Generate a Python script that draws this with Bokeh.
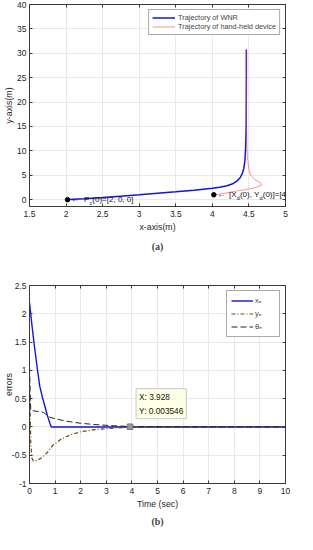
from bokeh.plotting import figure
from bokeh.layouts import column
from bokeh.models import Range1d, FixedTicker, LinearAxis, Legend, LegendItem, Label, Title
from bokeh.embed import file_html
from bokeh.resources import INLINE

# ---------------- data: panel (a) ----------------
wnr_x = [2.02, 2.1, 2.25, 2.5, 2.75, 3.0, 3.25, 3.5, 3.75, 4.0, 4.1, 4.2, 4.27, 4.33, 4.38, 4.41,
         4.43, 4.445, 4.453, 4.458, 4.462, 4.464, 4.465, 4.465]
wnr_y = [0.0, 0.07, 0.2, 0.45, 0.72, 1.0, 1.3, 1.6, 1.95, 2.35, 2.55, 2.85, 3.2, 3.75, 4.5, 5.4,
         6.4, 8.0, 10.0, 12.0, 15.0, 20.0, 25.0, 30.8]
dev_x = [4.02, 4.1, 4.2, 4.3, 4.45, 4.57, 4.64, 4.675, 4.665, 4.64, 4.58, 4.52, 4.495, 4.48,
         4.472, 4.468, 4.466, 4.465, 4.465]
dev_y = [1.0, 1.15, 1.4, 1.7, 2.05, 2.4, 2.75, 3.0, 3.3, 3.6, 4.1, 5.1, 6.7, 8.7,
         11.4, 15.0, 20.0, 25.0, 30.8]
a_xticks = [1.5, 2, 2.5, 3, 3.5, 4, 4.5, 5]
a_xlabels = ["1.5", "2", "2.5", "3", "3.5", "4", "4.5", "5"]
a_yticks = [0, 5, 10, 15, 20, 25, 30, 35, 40]
a_ylabels = ["0", "5", "10", "15", "20", "25", "30", "35", "40"]
a_names = ["Trajectory of WNR", "Trajectory of hand-held device"]

# ---------------- data: panel (b) ----------------
t_xe = [0.0, 0.1, 0.2, 0.3, 0.4, 0.5, 0.6, 0.7, 0.8, 0.85, 2.0, 4.0, 6.0, 8.0, 10.0]
xe = [2.2, 1.78, 1.40, 1.05, 0.72, 0.53, 0.37, 0.2, 0.06, 0.0, 0.0, 0.0, 0.0, 0.0, 0.0]
t_ye = [0.0, 0.02, 0.05, 0.1, 0.15, 0.3, 0.5, 0.7, 0.9, 1.25, 1.6, 2.0, 2.6, 3.3, 4.0, 10.0]
ye = [1.05, 0.4, -0.3, -0.56, -0.6, -0.59, -0.54, -0.45, -0.33, -0.21, -0.14, -0.085, -0.045,
      -0.02, -0.005, 0.0]
t_th = [0.0, 0.02, 0.05, 0.3, 0.55, 0.65, 0.8, 1.0, 1.3, 1.6, 2.0, 2.6, 3.3, 4.0, 10.0]
th = [1.05, 0.6, 0.29, 0.275, 0.255, 0.22, 0.17, 0.145, 0.115, 0.09, 0.065, 0.04, 0.02, 0.006, 0.0]
b_xticks = [0, 1, 2, 3, 4, 5, 6, 7, 8, 9, 10]
b_xlabels = ["0", "1", "2", "3", "4", "5", "6", "7", "8", "9", "10"]
b_yticks = [-1, -0.5, 0, 0.5, 1, 1.5, 2, 2.5]
b_ylabels = ["-1", "-0.5", "0", "0.5", "1", "1.5", "2", "2.5"]
b_names = ["x\u2091", "y\u2091", "\u03b8\u2091"]
tip_x = 3.928
tip_y = 0.003546

FONT = "Liberation Sans"
AXC = "#3a3a3a"


def style(p, xt, xl, yt, yl, ylab_standoff):
    for ax, ticks, labels in ((p.xaxis[0], xt, xl), (p.yaxis[0], yt, yl)):
        ax.ticker = FixedTicker(ticks=ticks)
        ax.major_label_overrides = {k: v for k, v in zip(ticks, labels)}
        ax.major_label_text_font = FONT
        ax.major_label_text_font_size = "8.5px"
        ax.major_label_text_color = "#262626"
        ax.axis_label_text_font = FONT
        ax.axis_label_text_font_size = "8.8px"
        ax.axis_label_text_font_style = "normal"
        ax.axis_label_text_color = "#262626"
        ax.major_tick_in = 3
        ax.major_tick_out = 0
        ax.minor_tick_line_color = None
        ax.axis_line_color = AXC
        ax.major_tick_line_color = AXC
    p.xaxis[0].major_label_standoff = 4
    p.xaxis[0].axis_label_standoff = 2
    p.yaxis[0].major_label_standoff = 3
    p.yaxis[0].axis_label_standoff = ylab_standoff
    for loc, ticks in (("above", xt), ("right", yt)):
        ax = LinearAxis(ticker=FixedTicker(ticks=ticks), major_label_text_font_size="1px",
                        major_label_text_color=None,
                        major_label_standoff=0, major_tick_in=3, major_tick_out=0,
                        minor_tick_line_color=None, axis_line_color=AXC,
                        major_tick_line_color=AXC)
        p.add_layout(ax, loc)
    p.xgrid.ticker = FixedTicker(ticks=xt)
    p.ygrid.ticker = FixedTicker(ticks=yt)
    p.grid.grid_line_color = "#e3e3e3"
    p.grid.grid_line_width = 0.8
    p.outline_line_color = AXC
    p.background_fill_color = "white"
    p.border_fill_color = "white"


# ---------------- figure (a) ----------------
pa = figure(width=297, height=256, output_backend="svg", toolbar_location=None,
            x_range=Range1d(1.5, 5), y_range=Range1d(-1.4, 40),
            min_border_left=24, min_border_right=12, min_border_top=4, min_border_bottom=50,
            x_axis_label="x-axis(m)", y_axis_label="y-axis(m)")
style(pa, a_xticks, a_xlabels, a_yticks, a_ylabels, 0)

r_wnr = pa.line(wnr_x, wnr_y, line_color="#1414d2", line_width=1.5)
r_dev = pa.line(dev_x, dev_y, line_color="#ff3c3c", line_width=1.0, line_alpha=0.55)
pa.scatter([wnr_x[0], dev_x[0]], [wnr_y[0], dev_y[0]], size=4.5, color="black")

leg_a = Legend(items=[LegendItem(label=a_names[0], renderers=[r_wnr]),
                      LegendItem(label=a_names[1], renderers=[r_dev])],
               location="top_right", margin=5, padding=3, spacing=0,
               label_height=9, glyph_height=9, glyph_width=23, label_standoff=3,
               label_text_font=FONT, label_text_font_size="7.3px",
               border_line_color="#555555", border_line_width=1,
               background_fill_color="white", background_fill_alpha=1)
pa.add_layout(leg_a)


def annot(p, x, y, pieces):
    off = 0.0
    for txt, w, sub in pieces:
        if txt:
            p.add_layout(Label(x=x, y=y, x_offset=off, y_offset=(-3 if sub else 0), text=txt,
                               text_font=FONT, text_font_size=("5.5px" if sub else "8px"),
                               text_baseline="middle", text_align="left",
                               text_color="#111111"))
        off += w


annot(pa, wnr_x[0], wnr_y[0], [("", 3.5, False), ("\u2190", 13.0, False), ("P", 5.4, False),
                               ("c", 2.9, True), ("(0)=[2, 0, 0]", 0, False)])
annot(pa, dev_x[0], dev_y[0], [("", 3.5, False), ("\u2190", 11.8, False), ("[X", 7.7, False),
                               ("d", 3.1, True), ("(0), Y", 19.7, False), ("d", 3.1, True),
                               ("(0)]=[4, 1]", 0, False)])

pa.add_layout(Title(text="(a)", align="center", text_font="Liberation Serif",
                    text_font_style="bold", text_font_size="10px", standoff=8), "below")

# ---------------- figure (b) ----------------
pb = figure(width=297, height=272, output_backend="svg", toolbar_location=None,
            x_range=Range1d(0, 10), y_range=Range1d(-1, 2.5),
            min_border_left=24, min_border_right=12, min_border_top=29, min_border_bottom=39,
            x_axis_label="Time (sec)", y_axis_label="errors")
style(pb, b_xticks, b_xlabels, b_yticks, b_ylabels, -5)
pb.xaxis[0].major_label_standoff = 3
pb.xaxis[0].axis_label_standoff = 0

r_xe = pb.line(t_xe, xe, line_color="#1414d2", line_width=1.4)
r_ye = pb.line(t_ye, ye, line_color="#6e4a10", line_width=1.2, line_dash="4 2 1 2")
r_th = pb.line(t_th, th, line_color="#222222", line_width=1.0, line_dash="6 3")
pb.scatter([tip_x], [tip_y], marker="square", size=5.5, fill_color="#9a9a9a",
           line_color="#777777")
pb.add_layout(Label(x=tip_x, y=tip_y, x_offset=6, y_offset=8,
                    text="X: %.3f\nY: %.6f" % (tip_x, tip_y), text_font=FONT,
                    text_font_size="8.3px", text_line_height=1.4, text_align="left",
                    text_baseline="bottom", text_color="#111111",
                    background_fill_color="#ffffe6", background_fill_alpha=1,
                    border_line_color="#c8c8c8", padding=3))

leg_b = Legend(items=[LegendItem(label=b_names[0], renderers=[r_xe]),
                      LegendItem(label=b_names[1], renderers=[r_ye]),
                      LegendItem(label=b_names[2], renderers=[r_th])],
               location="top_right", margin=5, padding=4, spacing=2,
               label_height=11, glyph_height=11, glyph_width=22, label_standoff=2,
               label_text_font=FONT, label_text_font_size="7.5px",
               border_line_color="#555555", border_line_width=1,
               background_fill_color="white", background_fill_alpha=1)
pb.add_layout(leg_b)

pb.add_layout(Title(text="(b)", align="center", text_font="Liberation Serif",
                    text_font_style="bold", text_font_size="10px", standoff=4), "below")

layout = column(pa, pb, spacing=0)
open("out.html", "w").write(file_html(layout, INLINE))
